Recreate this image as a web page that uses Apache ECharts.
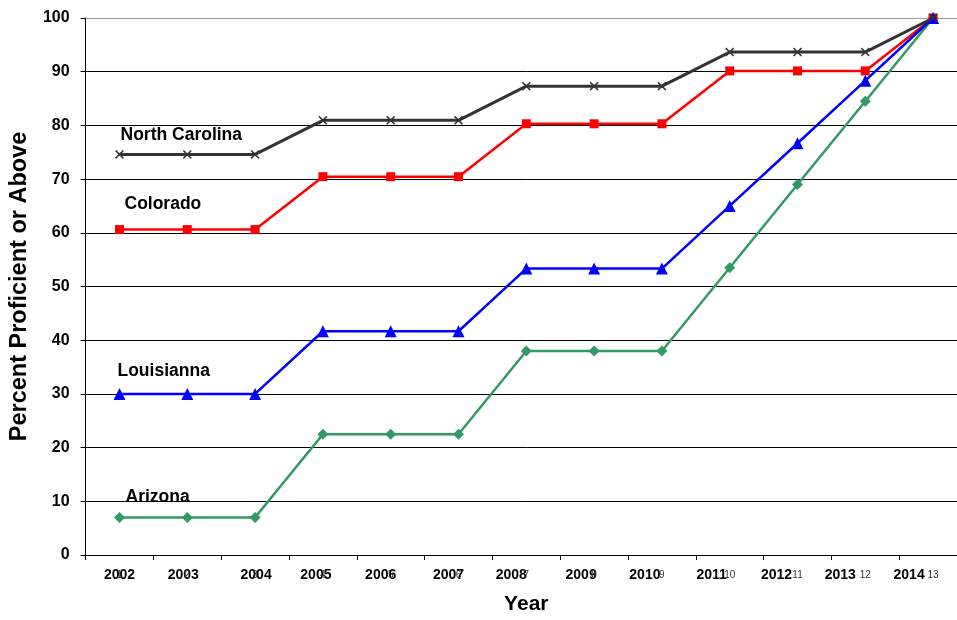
<!DOCTYPE html>
<html>
<head>
<meta charset="utf-8">
<script src="https://cdn.jsdelivr.net/npm/echarts@6/dist/echarts.min.js"></script>
<style>
  html, body { margin: 0; padding: 0; background: #fff; overflow: hidden; }
  /* the plot area runs a little past the right edge of the window */
  #chart { width: 970px; height: 620px; }
</style>
</head>
<body>
<div id="chart"></div>
<script>
// Year categories along the x axis, plus the step index printed beside each year
const years = ['2002', '2003', '2004', '2005', '2006', '2007', '2008',
               '2009', '2010', '2011', '2012', '2013', '2014'];
const stepIndex = ['1', '2', '3', '4', '5', '6', '7', '8', '9', '10', '11', '12', '13'];

// Percent proficient or above, per state and year
const northCarolina = [74.6, 74.6, 74.6, 80.95, 80.95, 80.95, 87.3, 87.3, 87.3, 93.65, 93.65, 93.65, 100];
const colorado      = [60.6, 60.6, 60.6, 70.45, 70.45, 70.45, 80.3, 80.3, 80.3, 90.15, 90.15, 90.15, 100];
const louisianna    = [30, 30, 30, 41.67, 41.67, 41.67, 53.33, 53.33, 53.33, 65, 76.67, 88.33, 100];
const arizona       = [7, 7, 7, 22.5, 22.5, 22.5, 38, 38, 38, 53.5, 69, 84.5, 100];

const yTicks = { min: 0, max: 100, interval: 10 };

// Horizontal nudge of each year label (px) relative to its category centre
const yearNudge = [0, -4, 1, -7, -10, -10, -15, -13, -17, -18, -21, -25, -24];

const FONT = '"Liberation Sans", Arial, sans-serif';

const yearRich = {};
yearNudge.forEach((dx, i) => {
  yearRich['s' + i] = {
    fontFamily: FONT, fontSize: 14, fontWeight: 'bold', color: '#000',
    padding: dx >= 0 ? [0, 0, 0, 2 * dx] : [0, -2 * dx, 0, 0]
  };
});

// Filled "x" marker
const crossSymbol = 'path://M0,1.2L1.2,0L5,3.8L8.8,0L10,1.2L6.2,5L10,8.8L8.8,10L5,6.2L1.2,10L0,8.8L3.8,5Z';

function nameLabel(name, dx, dist) {
  return {
    show: true,
    position: 'top',
    align: 'left',
    distance: dist,
    offset: [dx, 0],
    fontFamily: FONT,
    fontSize: 17.5,
    fontWeight: 'bold',
    color: '#000',
    formatter: p => (p.dataIndex === 0 ? name : '')
  };
}

function stateSeries(name, values, color, symbol, size, width, dx, dist) {
  return {
    name: name,
    type: 'line',
    data: values,
    symbol: symbol,
    symbolSize: size,
    lineStyle: { color: color, width: width },
    itemStyle: { color: color },
    label: nameLabel(name, dx, dist),
    emphasis: { disabled: true },
    animation: false
  };
}

const splitColors = [];
for (let v = yTicks.min; v <= yTicks.max; v += yTicks.interval) {
  splitColors.push(v === yTicks.max ? '#9a9a9a' : '#000');
}

const chart = echarts.init(document.getElementById('chart'), null, { renderer: 'canvas' });
chart.setOption({
  backgroundColor: '#fff',
  animation: false,
  grid: { left: 83, top: 18, height: 540, width: 884, containLabel: false },
  xAxis: [
    {
      type: 'category',
      data: years,
      boundaryGap: true,
      position: 'bottom',
      axisLine: { show: true, lineStyle: { color: '#000', width: 1 } },
      axisTick: { show: true, length: 5, inside: false, lineStyle: { color: '#000' } },
      axisLabel: {
        margin: 13,
        interval: 0,
        formatter: (v, i) => '{s' + i + '|' + v + '}',
        rich: yearRich
      },
      splitLine: { show: false },
      name: 'Year',
      nameLocation: 'middle',
      nameGap: 39,
      nameTextStyle: { fontFamily: FONT, fontSize: 21, fontWeight: 'bold', color: '#000' }
    },
    {
      type: 'category',
      data: stepIndex,
      boundaryGap: true,
      position: 'bottom',
      axisLine: { show: false },
      axisTick: { show: false },
      axisLabel: { margin: 15, interval: 0, fontFamily: FONT, fontSize: 10, color: '#333' },
      splitLine: { show: false }
    }
  ],
  yAxis: {
    type: 'value',
    min: yTicks.min,
    max: yTicks.max,
    interval: yTicks.interval,
    axisLine: { show: true, lineStyle: { color: '#000', width: 1 } },
    axisTick: { show: true, length: 5, inside: false, lineStyle: { color: '#000' } },
    axisLabel: { margin: 16, fontFamily: FONT, fontSize: 16, fontWeight: 'bold', color: '#000' },
    splitLine: { show: true, lineStyle: { color: splitColors, width: 1 } },
    name: 'Percent Proficient or Above',
    nameLocation: 'middle',
    nameGap: 52,
    nameTextStyle: { fontFamily: FONT, fontSize: 23.5, fontWeight: 'bold', color: '#000' }
  },
  series: [
    stateSeries('Arizona', arizona, '#339966', 'diamond', 11, 2.5, 6, 6),
    stateSeries('Colorado', colorado, '#ff0000', 'rect', 9, 2.5, 5, 12),
    stateSeries('Louisianna', louisianna, '#0000ff', 'triangle', 12, 2.5, -2, 8),
    stateSeries('North Carolina', northCarolina, '#333333', crossSymbol, 9, 3, 1, 6)
  ]
});
</script>
</body>
</html>
